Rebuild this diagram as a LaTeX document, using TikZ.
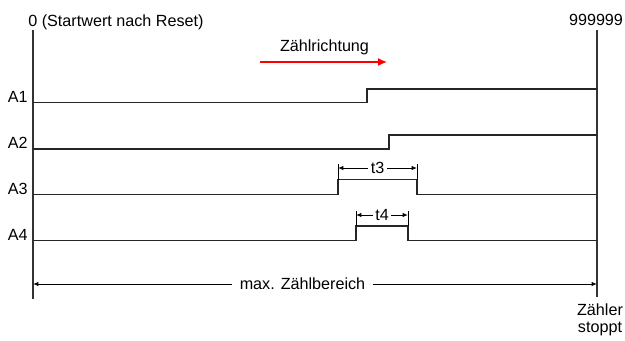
\documentclass[tikz,border=0pt]{standalone}
\usepackage{fontspec}
\setmainfont{Liberation Sans}
\usepackage{tikz}
\usetikzlibrary{arrows.meta, positioning}

\tikzset{
    grenze/.style={line width=0.9pt, black!80},
    signal/.style={line width=0.7pt, black!85},
    mass/.style={line width=0.5pt, black, {Latex[length=3pt,width=2.4pt]}-{Latex[length=3pt,width=2.4pt]}},
    beschriftung/.style={anchor=base east, inner sep=0pt}
}

\begin{document}
\begin{tikzpicture}[>={Latex[length=5pt,width=4.5pt]}, font=\fontsize{9.2}{9.8}\selectfont]
    \useasboundingbox (0,0) rectangle (12.5,6.8);

    % Grenzen des Zählbereichs
    \draw[grenze] (0.66,6.2) -- (0.66,0.82);
    \draw[grenze] (11.94,6.2) -- (11.94,0.86);
    \node[anchor=base west, inner sep=0pt] (startwert) at (0.56,6.28) {0 (Startwert nach Reset)};
    \node[anchor=base, inner sep=0pt] (endwert) at (11.92,6.3) {999999};

    % Zählrichtung
    \node[anchor=base, inner sep=0pt] (richtung) at (6.49,5.78) {Zählrichtung};
    \coordinate (rAnfang) at (5.2,5.56);
    \coordinate (rEnde) at (7.74,5.56);
    \draw[->, red, line width=0.8pt] (rAnfang) -- (rEnde);

    % Ausgänge A1 bis A4
    \draw[signal] (0.66,4.75) -- (7.34,4.75) -- (7.34,5.02) -- (11.94,5.02);
    \node[beschriftung] (a1) at (0.56,4.76) {A1};

    \draw[signal] (0.66,3.82) -- (7.78,3.82) -- (7.78,4.1) -- (11.94,4.1);
    \node[beschriftung] (a2) at (0.56,3.83) {A2};

    \draw[signal] (0.66,2.91) -- (6.76,2.91) -- (6.76,3.21) -- (8.34,3.21) -- (8.34,2.91) -- (11.94,2.91);
    \node[beschriftung] (a3) at (0.56,2.92) {A3};

    \draw[signal] (0.66,1.99) -- (7.12,1.99) -- (7.12,2.28) -- (8.16,2.28) -- (8.16,1.99) -- (11.94,1.99);
    \node[beschriftung] (a4) at (0.56,2.0) {A4};

    % Impulsdauer t3 und t4
    \draw[line width=0.5pt] (6.76,3.21) -- (6.76,3.53);
    \draw[line width=0.5pt] (8.34,3.21) -- (8.34,3.53);
    \coordinate (t3links) at (6.76,3.44);
    \coordinate (t3rechts) at (8.34,3.44);
    \draw[mass] (t3links) -- node[fill=white, inner sep=1.5pt] (t3) {t3} (t3rechts);

    \draw[line width=0.5pt] (7.12,2.28) -- (7.12,2.59);
    \draw[line width=0.5pt] (8.16,2.28) -- (8.16,2.59);
    \coordinate (t4links) at (7.12,2.5);
    \coordinate (t4rechts) at (8.16,2.5);
    \draw[mass] (t4links) -- node[fill=white, inner sep=1.5pt] (t4) {t4} (t4rechts);

    % max. Zählbereich
    \node[inner sep=4pt] (bereich) at (6.05,1.12) {max. Zählbereich};
    \coordinate (bLinks) at (0.66,1.12);
    \coordinate (bRechts) at (11.94,1.12);
    \draw[line width=0.5pt, -{Latex[length=3pt,width=2.4pt]}] (bereich) -- (bLinks);
    \draw[line width=0.5pt, -{Latex[length=3pt,width=2.4pt]}] (bereich) -- (bRechts);

    \node[align=center, anchor=north, inner sep=0pt] (stopp) at (12.0,0.74) {Zähler\\stoppt};
\end{tikzpicture}
\end{document}
